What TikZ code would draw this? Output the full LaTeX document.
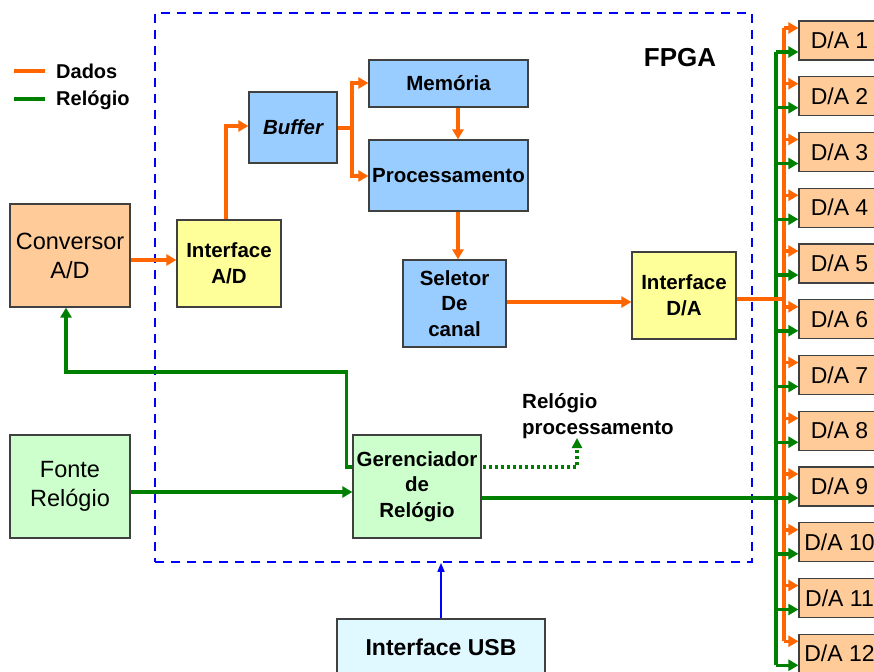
\documentclass[tikz,border=0pt]{standalone}
\usepackage{fontspec}
\setmainfont{Liberation Sans}
\usetikzlibrary{arrows.meta}
\definecolor{dadosC}{HTML}{FF6600}
\definecolor{clkC}{HTML}{008000}
\definecolor{convF}{HTML}{FFCC99}
\definecolor{yelF}{HTML}{FFFF99}
\definecolor{bluF}{HTML}{99CCFF}
\definecolor{grnF}{HTML}{CCFFCC}
\definecolor{usbF}{HTML}{E0F8FF}
\definecolor{edgeC}{HTML}{404040}
\newcommand\boxfontb{\fontsize{20.5}{25.5}\selectfont\bfseries}
\newcommand\boxfontr{\fontsize{23.5}{29}\selectfont}
\begin{document}
\begin{tikzpicture}[x=1pt,y=-1pt,
  box/.style={draw=edgeC, line width=1.2pt, inner sep=0pt, align=center},
  bbox/.style={box, font=\boxfontb},
  rbox/.style={box, font=\boxfontr},
  dabox/.style={box, fill=convF, font=\fontsize{23}{27}\selectfont, minimum width=81pt, minimum height=39pt},
  dados/.style={draw=dadosC, line width=3.5pt},
  clk/.style={draw=clkC, line width=3.5pt},
  arr/.style={-{Triangle[length=10pt,width=11pt]}}]
\useasboundingbox (0,0) rectangle (874,671);

% FPGA region
\node[draw=blue, line width=1.8pt, dash pattern=on 9pt off 7pt, minimum width=597pt, minimum height=549pt, inner sep=0pt] (fpga) at (453.5,287.5) {};
\node[font=\fontsize{26}{30}\selectfont\bfseries] (fpgalbl) at (680,58) {FPGA};

% legend
\coordinate (l1a) at (14,71); \coordinate (l1b) at (45,71);
\coordinate (l2a) at (14,99); \coordinate (l2b) at (45,99);
\draw[dados] (l1a) -- (l1b);
\draw[clk] (l2a) -- (l2b);
\node[anchor=west, inner sep=0pt, font=\fontsize{20}{23}\selectfont\bfseries] (legd) at (56,71) {Dados};
\node[anchor=west, inner sep=0pt, font=\fontsize{20}{23}\selectfont\bfseries] (legr) at (56,100) {Relógio};

% boxes
\node[rbox, fill=convF, minimum width=120pt, minimum height=103pt] (Conv) at (70,255.5) {Conversor\\A/D};
\node[bbox, fill=yelF, minimum width=104pt, minimum height=87pt] (IAD) at (229,263.5) {Interface\\A/D};
\node[box, fill=bluF, minimum width=88pt, minimum height=71pt, font=\boxfontb\itshape] (Buf) at (293,127.5) {Buffer};
\node[bbox, fill=bluF, minimum width=159pt, minimum height=47pt] (Mem) at (448.5,83.5) {Memória};
\node[bbox, fill=bluF, minimum width=159pt, minimum height=71pt] (Proc) at (448.5,175.5) {Processamento};
\node[bbox, fill=bluF, minimum width=103pt, minimum height=87pt] (Sel) at (454.5,303.5) {Seletor\\De\\canal};
\node[bbox, fill=yelF, minimum width=104pt, minimum height=87pt] (IDA) at (684,295.5) {Interface\\D/A};
\node[bbox, fill=grnF, minimum width=128pt, minimum height=103pt] (Geren) at (417,486.5) {Gerenciador\\de\\Relógio};
\node[rbox, fill=grnF, minimum width=120pt, minimum height=103pt] (Fonte) at (70,486.5) {Fonte\\Relógio};
\node[box, fill=usbF, minimum width=208pt, minimum height=62pt, font=\fontsize{23}{27}\selectfont\bfseries] (USB) at (441,650) {\raisebox{6pt}{Interface USB}};
\node[anchor=west, align=left, inner sep=0pt, font=\boxfontb] (rproc) at (522,416) {Relógio\\processamento};

% data path
\draw[dados,arr] (Conv.east |- 0,260) -- (IAD.west |- 0,260);
\draw[dados,arr] ([xshift=-3pt]IAD.north) |- (Buf.west |- 0,126);
\coordinate (bsplit) at (352,128);
\draw[dados] (Buf.east |- bsplit) -- (bsplit);
\draw[dados,arr] (bsplit) |- (Mem.west |- 0,83);
\draw[dados,arr] (bsplit) |- (Proc.west |- 0,176);
\draw[dados,arr] ([xshift=9.5pt]Mem.south) -- ([xshift=9.5pt]Proc.north);
\draw[dados,arr] ([xshift=9.5pt]Proc.south) -- ([xshift=9.5pt]Proc.south |- Sel.north);
\draw[dados,arr] (Sel.east |- 0,302) -- (IDA.west |- 0,302);

% clock paths
\draw[clk,arr] (Fonte.east |- 0,492) -- (Geren.west |- 0,492);
\draw[clk,arr] (Geren.west |- 0,467) -- ++(-6,0) |- (66,372) -- (Conv.south -| 66,0);
\coordinate (rptip) at (577,438);
\draw[clkC, line width=3.5pt, dash pattern=on 3pt off 3pt, -{Triangle[length=10pt,width=10pt]}] ([xshift=1pt]Geren.east |- 0,467) -| (rptip);

% USB
\draw[blue, line width=1.6pt, -{Triangle[length=9pt,width=7pt]}] (USB.north) -- (USB.north |- fpga.south);

% D/A boxes and buses
\coordinate (gbTop) at (776,52); \coordinate (gbBot) at (776,665.25);
\coordinate (obTop) at (784,28); \coordinate (obBot) at (784,641.25);
\draw[clk] (gbTop) -- (gbBot);
\draw[dados] (obTop) -- (obBot);
\draw[dados] (IDA.east |- 0,299) -- (obTop |- 0,299);
\foreach \i in {1,...,12} {
  \pgfmathsetmacro\cy{40.5+(\i-1)*55.75}
  \pgfmathsetmacro\oy{\cy-12.5}
  \node[dabox] (DA\i) at (839.5,\cy) {D/A \i};
  \draw[dados,arr] (obTop |- 0,\oy) -- (DA\i.west |- 0,\oy);
}
\foreach \i in {1,...,12} {
  \pgfmathsetmacro\gy{40.5+(\i-1)*55.75+11.5}
  \draw[clk,arr] (gbTop |- 0,\gy) -- (DA\i.west |- 0,\gy);
}
\draw[clk] (Geren.east |- 0,498) -- (gbTop |- 0,498);
\end{tikzpicture}
\end{document}
